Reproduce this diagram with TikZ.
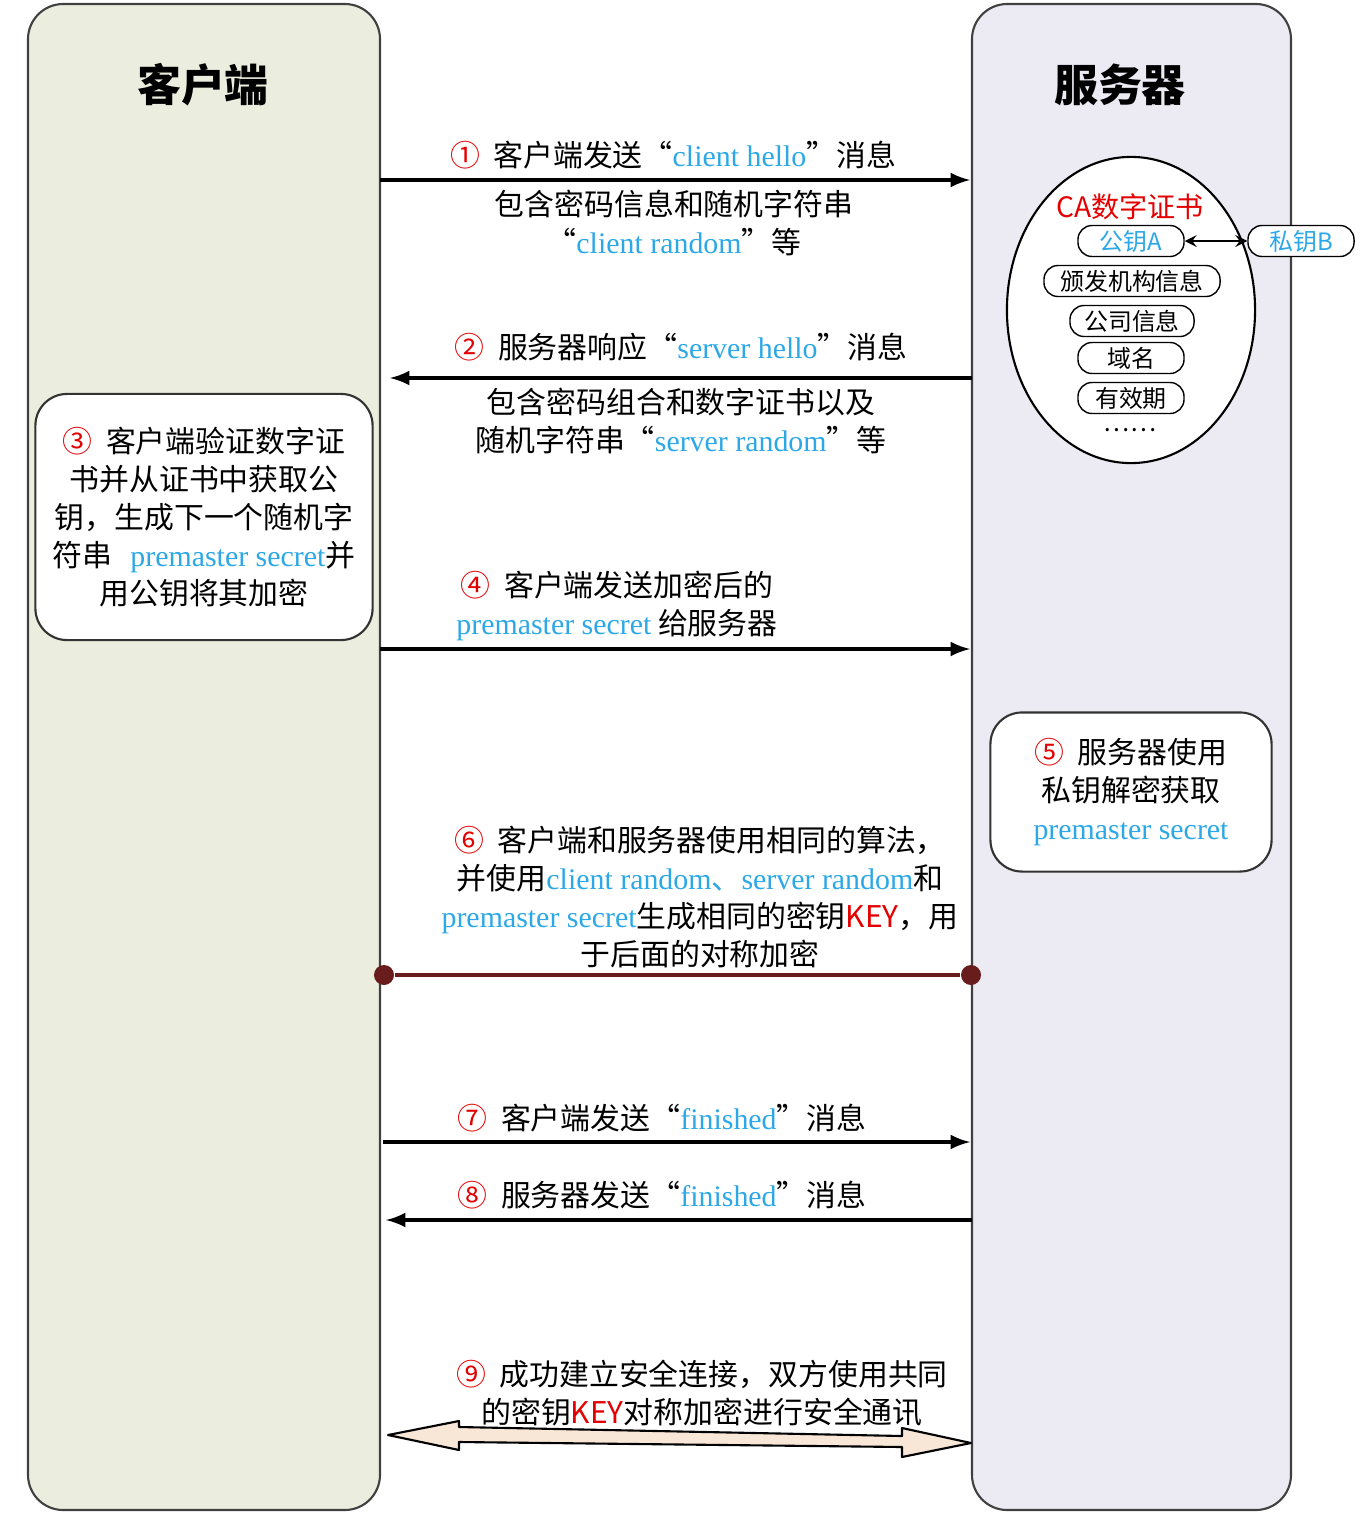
\documentclass[tikz,border=0pt]{standalone}
\usepackage{fontspec}
\setmainfont{Noto Sans CJK SC}
\newfontfamily\latinfont{Liberation Serif}
\usepackage{tikz}
\usetikzlibrary{shapes.geometric}
\definecolor{clientbg}{RGB}{235,238,222}
\definecolor{serverbg}{RGB}{236,234,242}
\definecolor{keyblue}{RGB}{45,168,230}
\definecolor{stepred}{RGB}{228,0,0}
\definecolor{keyline}{RGB}{105,28,28}
\definecolor{arrowfill}{RGB}{248,230,214}
\newcommand{\eng}[1]{\textcolor{keyblue}{\latinfont #1}}
\newcommand{\stepno}[1]{\textcolor{stepred}{#1}\hspace{0.45em}}
\tikzstyle{column} = [draw = black!75, line width = 0.6pt, rounded corners = 10pt]
\tikzstyle{title} = [font = \fontsize{12.5}{15}\selectfont\bfseries]
\tikzstyle{label} = [align = center, inner sep = 0pt, font = \fontsize{8.5}{10.8}\selectfont]
\tikzstyle{box} = [draw = black!80, fill = white, rounded corners = 9pt, line width = 0.6pt]
\tikzstyle{field} = [draw, fill = white, rounded corners = 4pt, minimum height = 0.31cm, inner sep = 0pt, font = \fontsize{6.8}{8}\selectfont]
\tikzstyle{dot} = [circle, fill = keyline, inner sep = 0pt, minimum size = 0.2cm]
\tikzstyle{msg} = [-latex, line width = 0.9pt]

\begin{document}
\begin{tikzpicture}[x = 0.01cm, y = -0.01cm]
            \useasboundingbox (0, 0) rectangle (1364, 1524);
            % the two sides
            \draw [column, fill = clientbg] (28, 4) rectangle (380, 1510);
            \draw [column, fill = serverbg] (972, 4) rectangle (1291, 1510);
            \node (C) at (203, 85) [title] {客户端};
            \node (S) at (1120, 85) [title] {服务器};

            % certificate
            \node (cert) at (1131, 310) [ellipse, draw, fill = white, line width = 0.6pt, minimum width = 2.48cm, minimum height = 3.06cm] {};
            \node (CA) at (1130, 207) [label, text = stepred, font = \fontsize{8}{10}\selectfont] {CA数字证书};
            \node (PA) at (1131, 241) [field, minimum width = 1.06cm, text = keyblue] {公钥A};
            \node (IS) at (1132, 281) [field, minimum width = 1.76cm] {颁发机构信息};
            \node (CO) at (1132, 321) [field, minimum width = 1.24cm] {公司信息};
            \node (DN) at (1131, 358) [field, minimum width = 1.06cm] {域名};
            \node (VP) at (1131, 398) [field, minimum width = 1.06cm] {有效期};
            \node (MORE) at (1130, 430) [label, font = \fontsize{7}{8}\selectfont] {……};
            \node (PB) at (1301, 241) [field, minimum width = 1.06cm, text = keyblue] {私钥B};
            \draw [stealth-stealth, line width = 0.5pt] (PA) -- (PB);

            % 1
            \coordinate (C1) at (380, 180);
            \coordinate (S1) at (970, 180);
            \draw [msg] (C1) -- (S1);
            \node (T1a) at (673, 155) [label] {\stepno{①}客户端发送“\eng{client hello}”消息};
            \node (T1b) at (674, 223) [label] {包含密码信息和随机字符串\\“\eng{client random}”等};

            % 2
            \coordinate (S2) at (972, 378);
            \coordinate (C2) at (390, 378);
            \draw [msg] (S2) -- (C2);
            \node (T2a) at (681, 347) [label] {\stepno{②}服务器响应“\eng{server hello}”消息};
            \node (T2b) at (681, 421) [label] {包含密码组合和数字证书以及\\随机字符串“\eng{server random}”等};

            % 3
            \node (B3) at (204, 517) [box, label, minimum width = 3.37cm, minimum height = 2.46cm] {\stepno{③}客户端验证数字证\\书并从证书中获取公\\钥，生成下一个随机字\\符串\hspace{0.6em}\eng{premaster secret}并\\用公钥将其加密};

            % 4
            \coordinate (C4) at (380, 649);
            \coordinate (S4) at (970, 649);
            \draw [msg] (C4) -- (S4);
            \node (T4) at (617, 606) [label] {\stepno{④}客户端发送加密后的\\\eng{premaster secret} 给服务器};

            % 5
            \node (B5) at (1131, 792) [box, label, minimum width = 2.81cm, minimum height = 1.59cm] {\stepno{⑤}服务器使用\\私钥解密获取\\\eng{premaster secret}};

            % 6
            \node (C6) at (384, 975) [dot] {};
            \node (S6) at (971, 975) [dot] {};
            \draw [keyline, line width = 1.2pt] (C6) -- (S6);
            \node (T6) at (700, 897) [label] {\stepno{⑥}客户端和服务器使用相同的算法，\\并使用\eng{client random}\textcolor{keyblue}{、}\eng{server random}和\\\eng{premaster secret}生成相同的密钥\textcolor{stepred}{KEY}，用\\于后面的对称加密};

            % 7 and 8
            \coordinate (C7) at (383, 1142);
            \coordinate (S7) at (970, 1142);
            \draw [msg] (C7) -- (S7);
            \node (T7) at (662, 1118) [label] {\stepno{⑦}客户端发送“\eng{finished}”消息};
            \coordinate (S8) at (972, 1220);
            \coordinate (C8) at (386, 1220);
            \draw [msg] (S8) -- (C8);
            \node (T8) at (662, 1195) [label] {\stepno{⑧}服务器发送“\eng{finished}”消息};

            % 9
            \coordinate (C9) at (388, 1435);
            \coordinate (S9) at (971, 1443);
            \draw [fill = arrowfill, line width = 0.6pt, line join = round] (C9) -- (459, 1421) -- (459, 1427) -- (902, 1436) -- (902, 1428) -- (S9) -- (902, 1457) -- (902, 1447) -- (459, 1442) -- (459, 1450) -- cycle;
            \node (T9) at (702, 1393) [label] {\stepno{⑨}成功建立安全连接，双方使用共同\\的密钥\textcolor{stepred}{KEY}对称加密进行安全通讯};
        \end{tikzpicture}
\end{document}
